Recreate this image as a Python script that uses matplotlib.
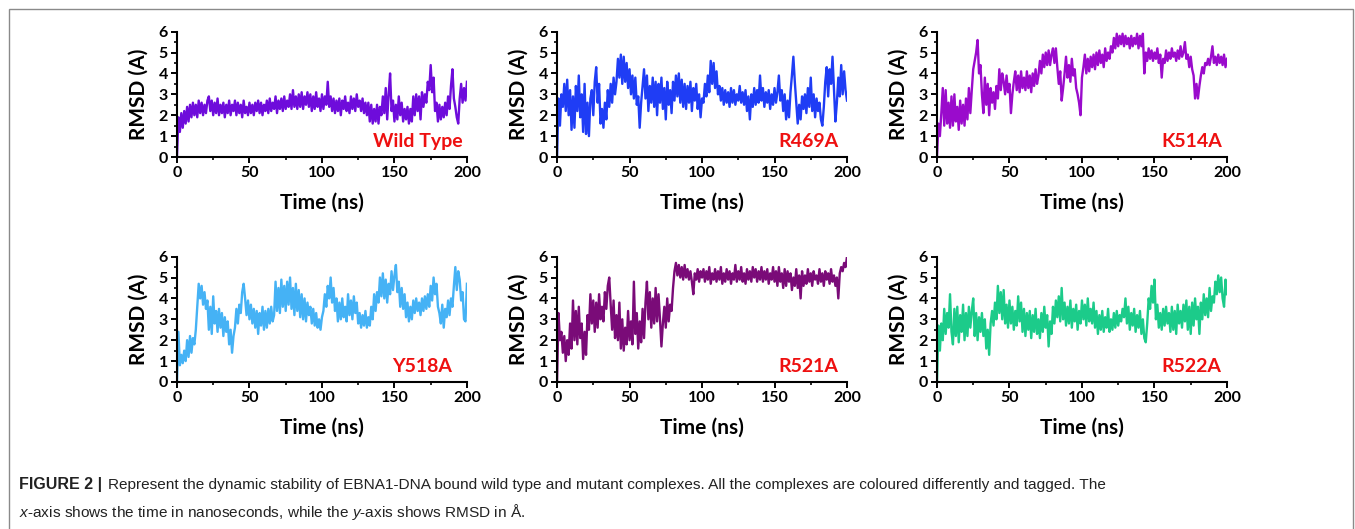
import matplotlib.pyplot as plt
import numpy as np
from matplotlib.patches import Rectangle
from matplotlib.ticker import MultipleLocator

plt.rcParams['font.family'] = ['Lato', 'DejaVu Sans']
plt.rcParams['mathtext.fontset'] = 'custom'
plt.rcParams['mathtext.it'] = 'Liberation Sans:italic'
plt.rcParams['mathtext.rm'] = 'Liberation Sans'

time_ns = np.arange(0, 201)

wild_type = [0.0,
    1.9, 1.2, 2.1, 1.4, 2.2, 1.6, 2.4, 1.7, 2.5, 1.9,
    2.6, 2.0, 2.5, 1.9, 2.7, 2.1, 2.6, 2.0, 2.5, 2.1,
    2.7, 2.9, 2.2, 2.7, 2.0, 2.6, 2.1, 2.8, 2.0, 2.5,
    2.1, 2.6, 1.9, 2.5, 2.1, 2.7, 2.0, 2.5, 2.2, 2.7,
    2.0, 2.6, 2.1, 2.5, 1.9, 2.7, 2.1, 2.4, 2.0, 2.6,
    2.1, 2.5, 2.0, 2.6, 2.2, 2.7, 2.1, 2.6, 2.0, 2.5,
    2.2, 2.7, 2.1, 2.8, 2.2, 2.6, 2.3, 2.9, 2.1, 2.7,
    2.3, 2.8, 2.2, 2.9, 2.3, 2.7, 2.4, 3.0, 2.3, 3.2,
    2.4, 2.9, 2.3, 3.0, 2.4, 3.1, 2.3, 2.9, 2.5, 3.1,
    2.4, 3.0, 2.2, 2.9, 2.3, 3.1, 2.4, 2.8, 2.2, 3.0,
    2.3, 2.9, 2.5, 3.6, 2.4, 2.9, 2.2, 2.8, 2.1, 2.7,
    2.2, 2.8, 2.0, 2.7, 2.3, 2.9, 2.2, 2.6, 2.1, 2.9,
    2.3, 2.8, 2.2, 3.0, 2.4, 2.7, 2.2, 2.8, 2.1, 2.6,
    2.0, 2.6, 1.7, 2.5, 1.6, 2.3, 1.7, 2.5, 1.6, 2.4,
    2.0, 2.9, 2.1, 3.3, 1.8, 3.0, 4.0, 2.2, 2.7, 1.7,
    2.5, 1.8, 2.9, 2.0, 2.6, 1.7, 2.3, 1.8, 2.4, 1.6,
    2.3, 1.7, 2.9, 2.0, 3.0, 2.2, 2.9, 1.8, 3.1, 2.4,
    3.0, 2.6, 3.6, 3.2, 4.4, 3.1, 3.8, 2.2, 2.6, 1.7,
    2.5, 1.8, 2.4, 1.9, 2.6, 2.0, 2.9, 2.3, 3.4, 4.2,
    2.8, 2.4, 1.9, 1.6, 2.8, 3.5, 2.6, 3.3, 2.7, 3.6]

r469a = [0.0,
    2.8, 1.5, 3.0, 2.4, 3.5, 2.2, 3.7, 2.0, 3.2, 1.3,
    2.9, 1.4, 3.4, 2.2, 3.9, 1.9, 3.0, 1.2, 3.5, 1.1,
    2.6, 1.0, 2.8, 3.2, 2.0, 3.6, 4.3, 2.6, 3.5, 1.6,
    2.3, 1.4, 2.6, 1.8, 3.2, 2.4, 3.5, 2.6, 3.8, 3.0,
    3.6, 4.7, 3.8, 4.9, 3.5, 4.8, 3.6, 4.5, 3.3, 4.2,
    3.0, 3.9, 2.8, 3.8, 2.5, 2.9, 1.4, 2.6, 3.4, 4.2,
    2.8, 3.9, 2.2, 3.4, 2.6, 3.8, 2.4, 3.6, 2.0, 3.5,
    2.6, 3.8, 2.3, 3.3, 1.8, 3.6, 2.5, 3.2, 2.1, 3.6,
    2.7, 3.9, 2.9, 4.0, 2.6, 3.7, 2.4, 3.5, 2.3, 3.4,
    2.6, 3.6, 2.2, 3.3, 2.7, 3.5, 2.3, 3.0, 1.9, 2.8,
    2.6, 3.5, 2.9, 3.9, 3.1, 4.6, 3.5, 4.5, 3.3, 4.1,
    3.0, 3.4, 2.7, 3.3, 2.5, 3.2, 2.6, 3.1, 2.4, 3.3,
    2.6, 3.2, 2.5, 3.0, 2.7, 3.4, 2.6, 3.1, 2.5, 3.2,
    2.2, 2.9, 1.8, 3.0, 2.4, 3.3, 2.5, 3.2, 2.6, 3.9,
    2.7, 3.3, 2.4, 3.1, 2.6, 3.2, 2.3, 3.0, 2.5, 3.3,
    2.6, 3.1, 3.9, 2.7, 3.2, 2.2, 3.0, 1.8, 2.7, 1.9,
    3.1, 3.9, 4.8, 3.6, 2.6, 1.6, 2.5, 1.8, 2.9, 2.3,
    3.0, 2.1, 3.3, 2.4, 3.8, 2.2, 3.0, 1.9, 2.8, 2.2,
    2.6, 1.8, 1.5, 2.4, 3.6, 4.3, 2.9, 4.2, 3.5, 4.8,
    3.2, 1.7, 2.6, 3.8, 2.9, 4.4, 3.0, 4.1, 3.2, 2.7]

k514a = [0.0,
    1.6, 1.0, 2.1, 3.3, 1.5, 3.2, 1.6, 2.6, 1.4, 2.9,
    1.5, 3.0, 1.7, 2.4, 1.3, 2.7, 1.6, 2.5, 1.5, 2.8,
    1.8, 3.3, 2.1, 3.2, 4.2, 4.6, 5.0, 5.6, 4.0, 4.4,
    3.0, 2.1, 3.8, 2.5, 3.5, 2.0, 3.3, 2.6, 3.1, 2.3,
    3.4, 2.8, 4.2, 3.2, 4.0, 3.6, 3.0, 3.9, 3.1, 3.5,
    2.1, 3.0, 3.6, 4.1, 3.2, 3.9, 3.1, 4.1, 3.3, 3.8,
    3.2, 4.1, 3.3, 3.9, 3.1, 4.0, 3.4, 4.2, 3.5, 3.9,
    4.6, 4.0, 4.9, 4.3, 5.0, 4.4, 5.1, 4.4, 4.9, 5.2,
    4.5, 5.2, 4.3, 3.5, 4.1, 2.7, 3.3, 4.0, 4.8, 3.8,
    4.4, 3.6, 4.7, 3.9, 4.2, 3.3, 3.0, 2.6, 2.0, 3.8,
    4.3, 4.9, 4.0, 4.7, 4.1, 4.8, 4.3, 4.9, 4.2, 5.0,
    4.4, 5.1, 4.5, 4.9, 4.3, 5.2, 4.6, 5.0, 4.7, 5.3,
    5.0, 5.7, 5.2, 5.9, 5.3, 5.8, 5.4, 5.9, 5.3, 5.8,
    5.4, 5.7, 5.2, 5.8, 5.3, 5.7, 5.4, 5.9, 5.2, 5.8,
    5.3, 5.9, 4.0, 5.0, 4.6, 5.2, 4.7, 5.1, 4.6, 5.0,
    4.7, 5.2, 4.5, 4.9, 3.8, 4.7, 4.5, 5.1, 4.6, 5.0,
    4.7, 5.2, 4.8, 5.0, 4.6, 5.1, 4.7, 5.3, 4.8, 5.0,
    5.5, 4.7, 4.9, 4.3, 4.8, 4.2, 3.9, 2.8, 3.5, 2.8,
    3.4, 3.9, 4.3, 4.0, 4.5, 4.4, 4.7, 4.4, 4.8, 5.3,
    4.5, 4.8, 4.4, 4.9, 4.5, 4.8, 4.4, 4.9, 4.3, 4.7]

y518a = [0.0,
    2.4, 0.8, 1.3, 0.9, 1.5, 1.0, 2.0, 1.2, 2.2, 1.4,
    2.1, 1.8, 2.5, 3.6, 4.7, 4.0, 4.6, 3.7, 4.3, 3.5,
    3.9, 2.5, 3.6, 2.3, 4.1, 2.8, 3.4, 2.4, 3.5, 2.6,
    3.3, 2.2, 3.1, 2.4, 2.9, 1.8, 2.5, 1.4, 2.2, 2.6,
    3.5, 2.8, 3.7, 3.3, 4.3, 4.7, 4.0, 3.2, 3.9, 3.0,
    3.7, 2.8, 3.5, 2.6, 3.4, 2.3, 3.3, 2.7, 3.6, 2.5,
    3.4, 2.6, 3.5, 2.8, 3.6, 2.9, 3.2, 4.8, 3.4, 4.5,
    3.3, 4.9, 3.6, 4.6, 3.4, 4.8, 3.7, 5.0, 3.5, 4.5,
    3.2, 4.7, 3.4, 4.4, 3.1, 4.2, 3.0, 4.0, 2.9, 3.8,
    3.2, 3.6, 2.8, 3.5, 2.7, 3.3, 2.6, 3.0, 2.5, 3.1,
    3.4, 4.2, 3.6, 4.6, 4.0, 5.0, 3.8, 4.5, 3.4, 4.0,
    2.9, 3.8, 3.0, 4.0, 3.1, 3.6, 2.9, 4.2, 3.2, 3.9,
    3.0, 4.1, 3.3, 3.8, 2.8, 3.3, 2.6, 3.2, 2.7, 3.4,
    2.6, 3.1, 2.7, 3.6, 3.0, 4.2, 3.4, 4.3, 3.8, 5.0,
    4.1, 5.2, 4.0, 4.9, 3.8, 4.7, 4.2, 5.3, 4.4, 5.1,
    5.6, 4.3, 4.8, 3.6, 4.5, 3.5, 4.2, 3.1, 3.8, 2.9,
    3.6, 3.0, 3.9, 3.3, 4.0, 3.4, 3.8, 3.2, 4.0, 3.4,
    4.1, 3.5, 4.2, 3.6, 4.6, 3.9, 5.0, 4.2, 4.7, 3.6,
    3.3, 2.8, 3.7, 2.6, 3.5, 3.1, 3.9, 3.2, 4.0, 3.6,
    4.6, 5.5, 4.4, 5.3, 4.9, 3.9, 4.3, 3.0, 2.9, 4.7]

r521a = [0.0,
    3.3, 2.0, 2.4, 1.4, 2.2, 1.0, 2.0, 1.3, 2.8, 1.6,
    3.9, 2.0, 3.4, 1.8, 3.6, 2.1, 2.8, 1.1, 2.4, 1.3,
    3.2, 2.5, 4.2, 2.8, 3.9, 2.4, 3.8, 2.6, 4.2, 3.0,
    3.6, 2.9, 4.3, 3.5, 4.6, 5.0, 3.7, 2.5, 3.9, 2.1,
    3.2, 2.0, 3.8, 1.6, 3.0, 1.5, 2.6, 1.8, 3.4, 2.0,
    2.9, 1.8, 4.8, 2.3, 3.3, 1.6, 2.9, 1.9, 3.5, 2.1,
    3.8, 4.8, 3.0, 4.3, 2.6, 4.0, 2.8, 4.5, 2.9, 4.2,
    3.0, 1.7, 2.8, 3.6, 2.6, 4.0, 2.9, 3.7, 3.4, 4.5,
    5.3, 5.7, 5.1, 5.6, 5.0, 5.5, 4.9, 5.6, 5.0, 5.4,
    4.9, 5.3, 4.8, 4.2, 5.2, 4.9, 5.4, 4.8, 5.3, 5.0,
    5.4, 4.8, 5.3, 4.9, 5.5, 4.7, 5.2, 4.9, 5.4, 4.8,
    5.3, 4.9, 5.5, 4.7, 5.2, 4.8, 5.4, 4.9, 5.3, 4.7,
    5.2, 4.9, 5.6, 4.8, 5.3, 4.9, 5.5, 4.8, 5.2, 4.7,
    5.4, 4.9, 5.3, 4.8, 5.5, 5.0, 5.4, 4.8, 5.3, 4.9,
    5.5, 4.8, 5.3, 4.9, 5.4, 4.7, 5.2, 4.9, 5.5, 4.8,
    5.3, 4.6, 5.5, 4.8, 5.2, 4.5, 5.4, 4.6, 5.3, 4.8,
    5.2, 4.4, 5.0, 4.6, 5.4, 4.5, 5.1, 4.0, 5.3, 4.6,
    5.1, 4.7, 5.4, 4.8, 5.2, 4.6, 5.3, 4.9, 5.1, 4.7,
    5.4, 4.8, 5.2, 4.6, 5.3, 4.9, 5.2, 4.7, 5.4, 4.8,
    5.1, 4.6, 5.0, 4.0, 5.2, 5.5, 5.3, 5.7, 5.5, 6.0]

r522a = [0.0,
    2.7, 1.5, 2.8, 2.0, 3.5, 2.3, 3.3, 2.6, 4.2, 2.4,
    1.8, 3.5, 2.2, 3.6, 1.9, 3.2, 2.4, 3.7, 2.0, 3.3,
    2.2, 3.6, 2.6, 3.4, 4.0, 2.2, 3.3, 2.0, 3.1, 2.4,
    3.3, 2.2, 3.0, 1.6, 2.5, 1.3, 2.8, 3.4, 2.7, 3.8,
    3.0, 4.6, 3.3, 4.3, 3.0, 4.4, 2.8, 3.7, 2.6, 3.9,
    2.8, 3.6, 2.5, 3.4, 2.7, 4.1, 2.9, 3.8, 2.4, 3.5,
    2.2, 3.3, 2.5, 3.4, 2.1, 3.2, 2.4, 3.5, 2.3, 3.0,
    2.1, 3.3, 2.4, 3.6, 2.6, 3.2, 1.7, 2.9, 2.3, 3.6,
    2.8, 3.9, 3.1, 4.1, 2.9, 4.5, 3.0, 3.8, 2.7, 3.6,
    2.8, 3.9, 2.6, 3.5, 2.9, 3.7, 2.5, 3.4, 2.8, 3.9,
    3.0, 3.7, 2.7, 4.0, 2.9, 3.5, 2.8, 3.8, 2.6, 3.4,
    2.3, 3.2, 2.5, 3.4, 2.4, 3.1, 2.6, 3.5, 2.4, 3.0,
    2.5, 3.3, 2.6, 3.4, 2.7, 3.2, 2.9, 3.5, 3.1, 4.0,
    2.8, 3.6, 2.5, 3.3, 2.7, 3.5, 2.4, 3.2, 2.6, 3.4,
    2.3, 3.0, 2.1, 1.9, 2.8, 4.0, 3.5, 4.6, 3.8, 4.9,
    3.0, 3.7, 2.6, 3.3, 2.5, 3.5, 2.7, 3.6, 2.8, 3.3,
    2.4, 3.6, 2.5, 3.4, 2.3, 3.7, 2.8, 3.4, 2.6, 3.7,
    2.9, 3.9, 2.5, 3.6, 2.3, 3.8, 2.7, 4.0, 3.0, 3.6,
    2.3, 3.8, 3.0, 4.2, 3.2, 4.0, 3.1, 4.5, 3.4, 4.1,
    3.8, 4.8, 4.2, 5.1, 4.3, 5.0, 4.0, 3.6, 4.9, 4.2]

series = [wild_type, r469a, k514a, y518a, r521a, r522a]
tags = ['Wild Type', 'R469A', 'K514A', 'Y518A', 'R521A', 'R522A']
colors = ['#6E0CDB', '#1F3DF5', '#9A0BCC', '#45B2F5', '#7A0B78', '#1CCB8A']
tag_x = [0.985, 0.97, 0.985, 0.95, 0.97, 0.98]

fig = plt.figure(figsize=(13.55, 5.29), dpi=100)

lefts = [0.1306, 0.4111, 0.6915]
bottoms = [0.7032, 0.2779]
for i in range(6):
    r, c = divmod(i, 3)
    ax = fig.add_axes([lefts[c], bottoms[r], 0.2140, 0.237])
    ax.plot(time_ns, series[i], color=colors[i], lw=1.7)
    ax.set_xlim(0, 200)
    ax.set_ylim(0, 6)
    ax.spines['top'].set_visible(False)
    ax.spines['right'].set_visible(False)
    ax.spines['left'].set_linewidth(1.5)
    ax.spines['bottom'].set_linewidth(1.5)
    ax.xaxis.set_major_locator(MultipleLocator(50))
    ax.xaxis.set_minor_locator(MultipleLocator(25))
    ax.yaxis.set_major_locator(MultipleLocator(1))
    ax.yaxis.set_minor_locator(MultipleLocator(0.5))
    ax.tick_params(which='major', direction='out', length=4.5, width=1.4, pad=2)
    ax.tick_params(which='minor', direction='out', length=2.5, width=1.2)
    for lab in ax.get_xticklabels() + ax.get_yticklabels():
        lab.set_fontsize(11.5)
        lab.set_fontweight('bold')
    ax.set_xlabel('Time (ns)', fontsize=15, fontweight='bold', labelpad=9)
    ax.set_ylabel('RMSD (A)', fontsize=15, fontweight='bold', labelpad=7)
    ax.text(tag_x[i], 0.12, tags[i], transform=ax.transAxes, ha='right',
            va='center', color='#EE1010', fontsize=14, fontweight='bold')

# frame around the figure
top = 1 - 8.7 / 529
fig.patches.append(Rectangle((9 / 1355, -0.02), 1344 / 1355, top + 0.02,
                             transform=fig.transFigure, fill=False,
                             edgecolor='#8a8a8a', lw=1.0))

capfont = ['Liberation Sans', 'DejaVu Sans']
fig.text(19 / 1355, 1 - 485 / 529, 'FIGURE 2 |', fontsize=11.5, fontweight='bold',
         family=capfont, color='#222222', va='center')
fig.text(108 / 1355, 1 - 485 / 529,
         'Represent the dynamic stability of EBNA1-DNA bound wild type and mutant complexes. '
         'All the complexes are coloured differently and tagged. The',
         fontsize=11.1, family=capfont, color='#222222', va='center')
fig.text(19 / 1355, 1 - 512 / 529,
         r'$x$-axis shows the time in nanoseconds, while the $y$-axis shows RMSD in Å.',
         fontsize=11.1, family=capfont, color='#222222', va='center')

fig.savefig('out.png', dpi=100)
